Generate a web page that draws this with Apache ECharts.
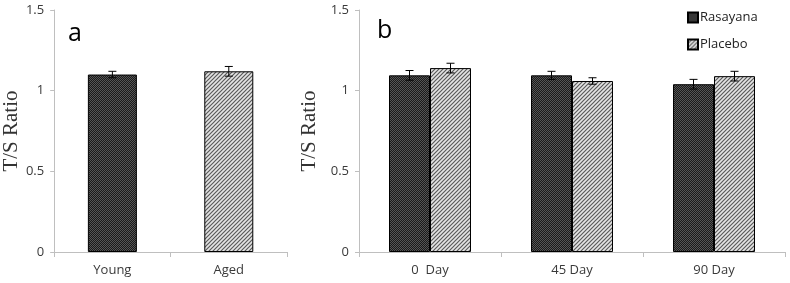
<!DOCTYPE html>
<html>
<head>
<meta charset="utf-8">
<script src="https://cdn.jsdelivr.net/npm/echarts@6/dist/echarts.min.js"></script>
<style>
  html, body { margin: 0; padding: 0; background: #fff; }
  #chart { width: 790px; height: 283px; }
</style>
</head>
<body>
<div id="chart"></div>
<script>
// panel a
const groupsA = ['Young', 'Aged']
const valuesA = [1.10, 1.12]
const errA = [0.02, 0.03]

// panel b
const daysB = ['0  Day', '45 Day', '90 Day']
const rasayana = [1.095, 1.095, 1.04]
const rasayanaErr = [0.03, 0.025, 0.03]
const placebo = [1.14, 1.06, 1.09]
const placeboErr = [0.03, 0.02, 0.03]

const yTicks = [0, 0.5, 1, 1.5]

function darkPattern() {
  const c = document.createElement('canvas')
  c.width = 2; c.height = 2
  const ctx = c.getContext('2d')
  ctx.fillStyle = '#1a1a1a'
  ctx.fillRect(0, 0, 2, 2)
  ctx.fillStyle = '#555'
  ctx.fillRect(0, 0, 1, 1)
  ctx.fillRect(1, 1, 1, 1)
  return { image: c, repeat: 'repeat' }
}

function hatchPattern() {
  const c = document.createElement('canvas')
  c.width = 4; c.height = 4
  const ctx = c.getContext('2d')
  ctx.fillStyle = '#e4e4e4'
  ctx.fillRect(0, 0, 4, 4)
  ctx.strokeStyle = '#5a5a5a'
  ctx.lineWidth = 1.2
  ctx.beginPath()
  ctx.moveTo(-1, 5); ctx.lineTo(5, -1)
  ctx.moveTo(-1, 1); ctx.lineTo(1, -1)
  ctx.moveTo(3, 5); ctx.lineTo(5, 3)
  ctx.stroke()
  return { image: c, repeat: 'repeat' }
}

const dark = darkPattern()
const hatch = hatchPattern()

const axisGrey = '#bfbfbf'
const labelStyle = { color: '#3a3a3a', fontSize: 13, fontFamily: 'Open Sans' }

function yAxisOpt(idx, gap) {
  return {
    gridIndex: idx,
    type: 'value',
    min: yTicks[0],
    max: yTicks[yTicks.length - 1],
    interval: 0.5,
    name: 'T/S Ratio',
    nameLocation: 'middle',
    nameGap: gap,
    nameTextStyle: { fontFamily: 'Liberation Serif', fontSize: 21, color: '#333' },
    axisLine: { show: true, lineStyle: { color: axisGrey } },
    axisTick: { show: true, length: 4, lineStyle: { color: axisGrey } },
    splitLine: { show: false },
    axisLabel: Object.assign({ margin: 10, formatter: v => String(v) }, labelStyle)
  }
}

function xAxisOpt(idx, data) {
  return {
    gridIndex: idx,
    type: 'category',
    data: data,
    axisLine: { lineStyle: { color: axisGrey } },
    axisTick: { show: true, length: 5, lineStyle: { color: axisGrey } },
    axisLabel: Object.assign({ margin: 12 }, labelStyle)
  }
}

// error bars drawn at bar centres; shift moves them onto a grouped bar
function errorSeries(xIdx, vals, errs, shift) {
  return {
    type: 'custom',
    xAxisIndex: xIdx,
    yAxisIndex: xIdx,
    silent: true,
    z: 10,
    data: vals.map((v, i) => [i, v, errs[i]]),
    renderItem: (params, api) => {
      const i = api.value(0)
      const v = api.value(1)
      const e = api.value(2)
      const top = api.coord([i, v + e])
      const bot = api.coord([i, v - e])
      const x = top[0] + shift
      const cap = 4
      const style = { stroke: '#000', lineWidth: 1 }
      return {
        type: 'group',
        children: [
          { type: 'line', shape: { x1: x, y1: top[1], x2: x, y2: bot[1] }, style },
          { type: 'line', shape: { x1: x - cap, y1: top[1], x2: x + cap, y2: top[1] }, style },
          { type: 'line', shape: { x1: x - cap, y1: bot[1], x2: x + cap, y2: bot[1] }, style }
        ]
      }
    }
  }
}

const chart = echarts.init(document.getElementById('chart'))
chart.setOption({
  animation: false,
  title: [
    { text: 'a', left: 63, top: 16, textStyle: { fontSize: 25, fontWeight: 'normal', color: '#000', fontFamily: 'Open Sans' } },
    { text: 'b', left: 372, top: 13, textStyle: { fontSize: 25, fontWeight: 'normal', color: '#000', fontFamily: 'Open Sans' } }
  ],
  legend: {
    orient: 'vertical',
    left: 682,
    top: 6,
    itemWidth: 10,
    itemHeight: 10,
    itemGap: 14,
    icon: 'rect',
    textStyle: { fontFamily: 'Open Sans', fontSize: 13, color: '#222', padding: [0, 0, 0, -3] },
    data: ['Rasayana', 'Placebo']
  },
  grid: [
    { left: 45, right: 503, top: 10, bottom: 31 },
    { left: 359, right: 5, top: 10, bottom: 31 }
  ],
  xAxis: [xAxisOpt(0, groupsA), xAxisOpt(1, daysB)],
  yAxis: [yAxisOpt(0, 29), yAxisOpt(1, 26)],
  series: [
    {
      type: 'bar',
      xAxisIndex: 0,
      yAxisIndex: 0,
      barWidth: 49,
      data: valuesA.map((v, i) => ({
        value: v,
        itemStyle: { color: i === 0 ? dark : hatch }
      })),
      itemStyle: { borderColor: '#000', borderWidth: 1 }
    },
    errorSeries(0, valuesA, errA, 0),
    {
      name: 'Rasayana',
      type: 'bar',
      xAxisIndex: 1,
      yAxisIndex: 1,
      barWidth: 41,
      barGap: 0,
      data: rasayana,
      itemStyle: { color: dark, borderColor: '#000', borderWidth: 1 }
    },
    {
      name: 'Placebo',
      type: 'bar',
      xAxisIndex: 1,
      yAxisIndex: 1,
      barWidth: 41,
      barGap: 0,
      data: placebo,
      itemStyle: { color: hatch, borderColor: '#000', borderWidth: 1 }
    },
    errorSeries(1, rasayana, rasayanaErr, -20.5),
    errorSeries(1, placebo, placeboErr, 20.5)
  ]
})
</script>
</body>
</html>
